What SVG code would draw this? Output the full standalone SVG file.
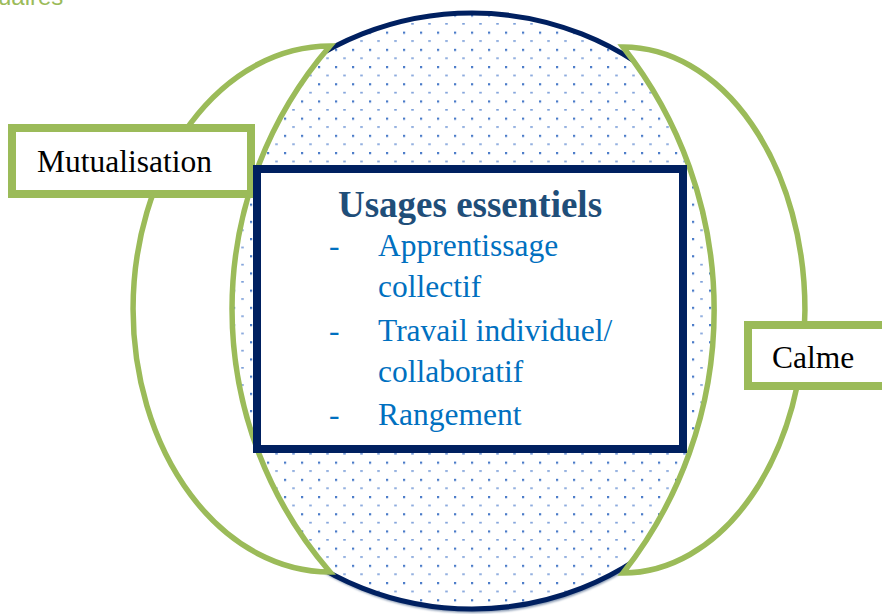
<svg xmlns="http://www.w3.org/2000/svg" width="882" height="614" viewBox="0 0 882 614">
<defs>
<pattern id="dots" patternUnits="userSpaceOnUse" x="403" y="66" width="17" height="17.2">
<rect x="0" y="0" width="2.2" height="2.2" fill="#4A7BC8"/>
<rect x="8.2" y="8.8" width="2.6" height="1.3" fill="#5B87CF"/>
</pattern>
<filter id="blur" x="-5%" y="-5%" width="110%" height="110%"><feGaussianBlur stdDeviation="1.2"/></filter>
<style>
.serif{font-family:"Liberation Serif","Times New Roman",serif;}
.label{font-size:31.5px;fill:#000;}
.item{font-size:31.5px;fill:#0070C0;}
.title{font-size:37px;font-weight:bold;fill:#1F4E79;}
.moon{fill:#fff;stroke:#9BBB59;stroke-width:5.5;stroke-linejoin:miter;}
.gbox{fill:#fff;stroke:#9BBB59;stroke-width:8;}
</style>
</defs>
<rect width="882" height="614" fill="#fff"/>
<text x="-2" y="5" font-family="Liberation Sans, Arial, sans-serif" font-size="24" fill="#9BBB59">uaires</text>

<g id="usages-cercle">
<circle cx="473" cy="315" r="298" fill="#8496B0" filter="url(#blur)"/>
<circle cx="472" cy="311" r="298" fill="#fff"/>
<circle cx="472" cy="311" r="298" fill="url(#dots)" stroke="#002060" stroke-width="5"/>
</g>

<g id="connectors">
<path id="lune-gauche" class="moon" d="M 330 46 A 197 263 0 0 0 330 572 A 402 402 0 0 1 330 46 Z"/>
<path id="lune-droite" class="moon" d="M 623 47 A 182 263 0 0 1 623 573 A 425 425 0 0 0 623 47 Z"/>
</g>

<g id="mutualisation">
<rect class="gbox" x="12" y="128" width="239" height="66"/>
<text class="serif label" x="37" y="172">Mutualisation</text>
</g>

<g id="calme">
<rect class="gbox" x="748" y="325" width="150" height="61"/>
<text class="serif label" x="772" y="368">Calme</text>
</g>

<g id="usages-essentiels">
<rect x="257" y="169" width="426" height="280" fill="#fff" stroke="#002060" stroke-width="8"/>
<text class="serif title" x="470" y="217" text-anchor="middle">Usages essentiels</text>
<g class="serif item">
<text x="329" y="256">-</text><text x="378" y="256">Apprentissage</text>
<text x="378" y="297">collectif</text>
<text x="329" y="341">-</text><text x="378" y="341">Travail individuel/</text>
<text x="378" y="382">collaboratif</text>
<text x="329" y="425">-</text><text x="378" y="425">Rangement</text>
</g>
</g>
</svg>
